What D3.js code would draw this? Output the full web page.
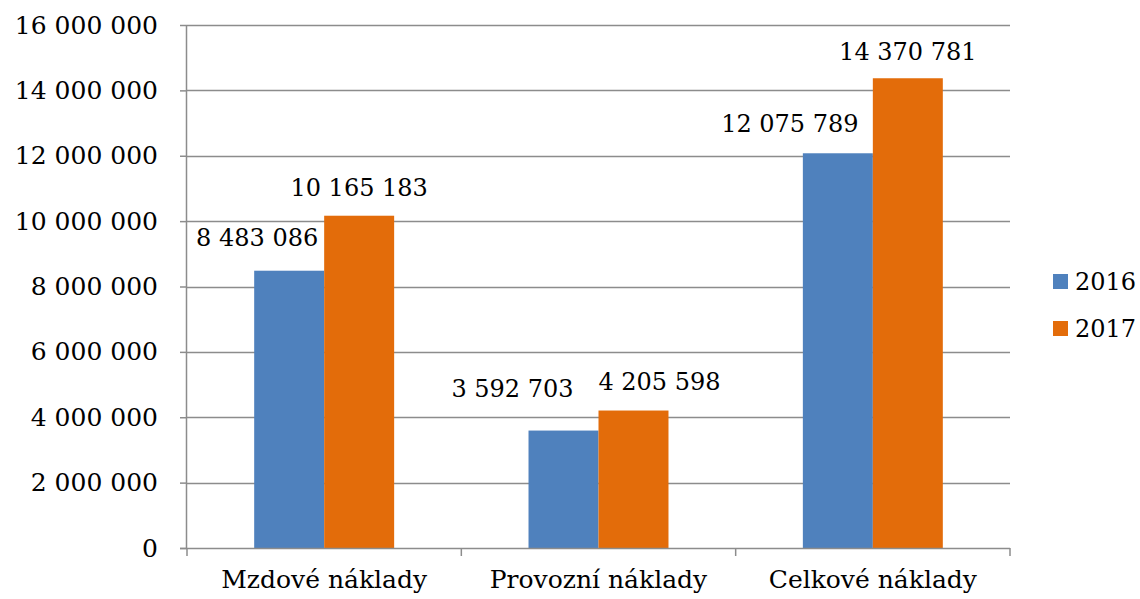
<!DOCTYPE html>
<html><head><meta charset="utf-8">
<script src="https://cdn.jsdelivr.net/npm/d3@7"></script>
<style>body{margin:0;background:#fff}svg{display:block}text{font-family:"DejaVu Serif","Liberation Serif",serif;fill:#000}</style>
</head><body>
<svg id="c" width="1140" height="599"></svg>
<script>
const categories = ["Mzdové náklady","Provozní náklady","Celkové náklady"];
const seriesNames = ["2016","2017"];
const values2016 = [8483086, 3592703, 12075789];
const values2017 = [10165183, 4205598, 14370781];
const labels2016 = ["8 483 086","3 592 703","12 075 789"];
const labels2017 = ["10 165 183","4 205 598","14 370 781"];
const yTicks = [0,2000000,4000000,6000000,8000000,10000000,12000000,14000000,16000000];
const colors = ["#4F81BD","#E36C0A"];

(function(){
const svg = d3.select("#c");
const pl=187, pr=1010, pt=25, pb=548;
const x = d3.scaleBand().domain(categories).range([pl,pr]).paddingInner(0).paddingOuter(0);
const inner = d3.scaleBand().domain(seriesNames).range([0,x.bandwidth()]).paddingInner(0).paddingOuter(0.96);
const y = d3.scaleLinear().domain([0,16000000]).range([pb,pt]);
const fmt = v => d3.format(",")(v).replace(/,/g," ");
const grid="#8c8c8c";
const fs = 24;

svg.append("g").selectAll("line").data(yTicks.filter(d=>d>0)).join("line")
  .attr("x1",pl).attr("x2",pr).attr("y1",d=>Math.round(y(d))+0.5).attr("y2",d=>Math.round(y(d))+0.5)
  .attr("stroke",grid).attr("stroke-width",1.5);

const ya = svg.append("g").attr("transform",`translate(${pl},0)`)
  .call(d3.axisLeft(y).tickValues(yTicks).tickFormat(fmt).tickSize(7).tickPadding(22));
ya.select(".domain").attr("stroke",grid).attr("stroke-width",1.5).attr("d",`M-0.5,${pt}V${pb}`);
ya.selectAll(".tick line").attr("stroke",grid).attr("stroke-width",1.5);
ya.selectAll(".tick text").attr("font-size",25).attr("font-family","DejaVu Serif").attr("fill","#000");

const data = categories.map((c,i)=>({c, vals:[values2016[i],values2017[i]], labs:[labels2016[i],labels2017[i]]}));
const g = svg.append("g");
data.forEach(d=>{
  seriesNames.forEach((s,j)=>{
    g.append("rect").attr("x",x(d.c)+inner(s)).attr("width",inner.bandwidth())
      .attr("y",y(d.vals[j])).attr("height",pb-y(d.vals[j])).attr("fill",colors[j]);
  });
});

const xa = svg.append("g").attr("transform",`translate(0,${pb})`)
  .call(d3.axisBottom(x).tickSize(0).tickPadding(22));
xa.select(".domain").attr("stroke",grid).attr("stroke-width",1.5).attr("d",`M${pl-7},0.5H${pr}`);
xa.selectAll(".tick text").attr("font-size",25).attr("font-family","DejaVu Serif").attr("fill","#000");
const bounds = [pl, ...categories.map(c=>x(c)+x.bandwidth())];
svg.append("g").selectAll("line").data(bounds).join("line")
  .attr("x1",d=>d).attr("x2",d=>d).attr("y1",pb).attr("y2",pb+8)
  .attr("stroke",grid).attr("stroke-width",1.5);

const dxs = [[-32,0],[-51,26],[-48,0]];
const dys = [[-33,-28],[-42,-29],[-29,-26]];
data.forEach((d,i)=>{
  seriesNames.forEach((s,j)=>{
    svg.append("text").attr("x",x(d.c)+inner(s)+inner.bandwidth()/2+dxs[i][j])
      .attr("y",y(d.vals[j])+dys[i][j]).attr("text-anchor","middle").attr("dominant-baseline","central")
      .attr("font-size",fs).text(d.labs[j]);
  });
});

const lg = svg.append("g").attr("transform","translate(1053,274)");
seriesNames.forEach((s,j)=>{
  lg.append("rect").attr("x",0).attr("y",j*47).attr("width",15).attr("height",15).attr("fill",colors[j]);
  lg.append("text").attr("x",22).attr("y",j*47+8).attr("dominant-baseline","central").attr("font-size",fs).text(s);
});
})();
</script>
</body></html>
